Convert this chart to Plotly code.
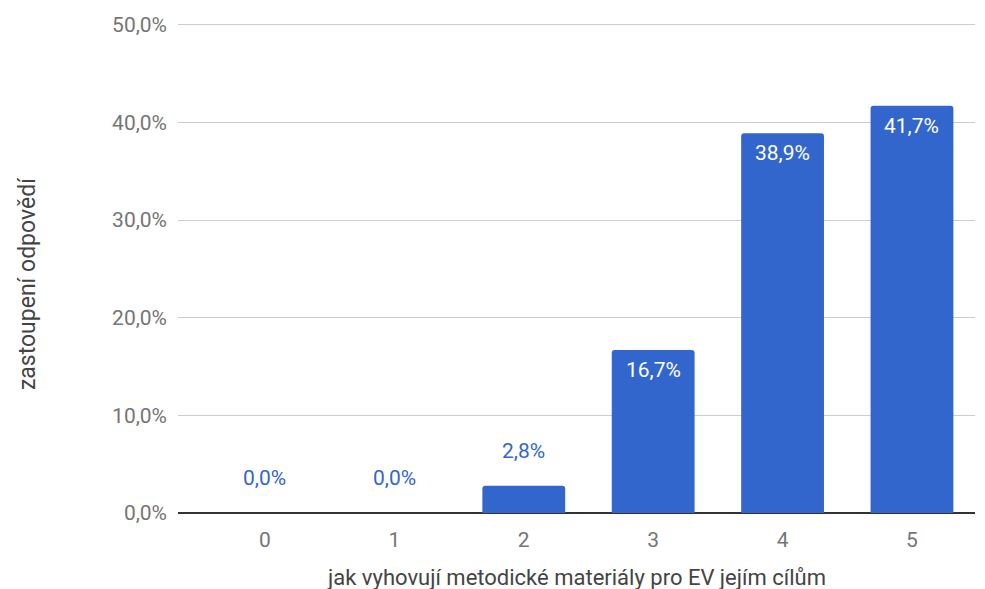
import plotly.graph_objects as go

# Hodnocení metodických materiálů (škála 0–5) a podíl odpovědí v procentech
categories = ["0", "1", "2", "3", "4", "5"]
shares = [0.0, 0.0, 2.8, 16.7, 38.9, 41.7]
y_ticks = [0, 10, 20, 30, 40, 50]


def pct(v):
    return f"{v:.1f}".replace(".", ",") + "%"


BLUE = "#3366cc"
FONT = "Roboto"
TXT = 21

x_pos = list(range(len(categories)))

fig = go.Figure(
    go.Bar(
        x=x_pos,
        y=shares,
        width=0.64,
        marker=dict(color=BLUE, cornerradius=3, line=dict(width=0)),
        hoverinfo="skip",
    )
)

# value labels: white inside tall bars, blue above short ones
annotations = []
for xi, v in zip(x_pos, shares):
    if v >= 10:
        annotations.append(dict(
            x=xi, y=v, xref="x", yref="y", text=pct(v), showarrow=False,
            yanchor="top", yshift=-6,
            font=dict(family=FONT, size=TXT, color="white"),
        ))
    else:
        annotations.append(dict(
            x=xi, y=v, xref="x", yref="y", text=pct(v), showarrow=False,
            yanchor="middle", yshift=35,
            font=dict(family=FONT, size=TXT, color=BLUE),
        ))

# vertical axis title, placed slightly below the plot's middle
annotations.append(dict(
    x=-0.188, y=0.46, xref="paper", yref="paper",
    text="zastoupení odpovědí", showarrow=False, textangle=-90,
    xanchor="center", yanchor="middle",
    font=dict(family=FONT, size=23, color="#444444"),
))

# horizontal axis title below the tick labels
annotations.append(dict(
    x=0.5, y=-0.13, xref="paper", yref="paper",
    text="jak vyhovují metodické materiály pro EV jejím cílům",
    showarrow=False, xanchor="center", yanchor="middle",
    font=dict(family=FONT, size=22, color="#444444"),
))

fig.update_layout(
    width=985,
    height=589,
    margin=dict(l=178, r=10, t=15, b=76, autoexpand=False),
    paper_bgcolor="white",
    plot_bgcolor="white",
    showlegend=False,
    font=dict(family=FONT, size=TXT, color="#757575"),
    annotations=annotations,
    xaxis=dict(
        range=[-0.672, 5.487],
        tickvals=x_pos,
        ticktext=categories,
        showgrid=False,
        zeroline=False,
        showline=False,
        ticklabelstandoff=12,
        tickfont=dict(family=FONT, size=TXT, color="#757575"),
        fixedrange=True,
    ),
    yaxis=dict(
        range=[0, 51],
        tickvals=y_ticks,
        ticktext=[pct(t) for t in y_ticks],
        showgrid=True,
        gridcolor="#cccccc",
        gridwidth=1,
        zeroline=True,
        zerolinecolor="#333333",
        zerolinewidth=1.5,
        showline=False,
        ticklabelstandoff=10,
        tickfont=dict(family=FONT, size=TXT, color="#757575"),
        fixedrange=True,
    ),
)

fig.write_html("out.html")
